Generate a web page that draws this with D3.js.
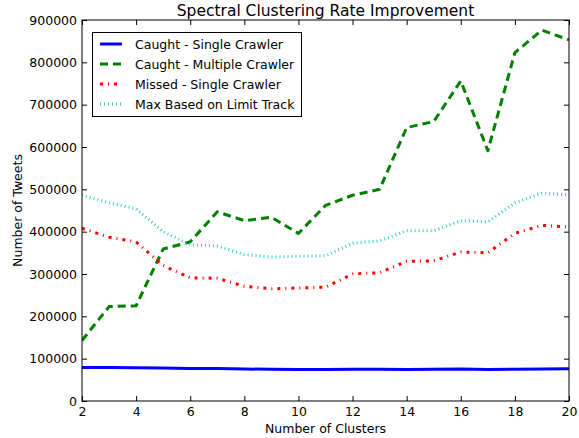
<!DOCTYPE html>
<html><head><meta charset="utf-8">
<script src="https://cdn.jsdelivr.net/npm/d3@7"></script>
<style>
body{margin:0;background:#fff;}
text{font-family:"DejaVu Sans",sans-serif;fill:#000;}
</style></head>
<body><svg id="c" width="579" height="438"></svg>
<script>
const clusters = [2,3,4,5,6,7,8,9,10,11,12,13,14,15,16,17,18,19,20];
const caughtSingle = [79000,79000,78500,78000,77000,76500,75500,75000,74500,74500,75000,75000,74500,75000,75500,74500,75000,75500,76000];
const caughtMultiple = [143000,223000,225000,359000,376000,447000,426000,434000,396000,462000,486000,500000,646000,660000,756000,591000,823000,876000,853000];
const missedSingle = [408000,387000,376000,320000,291000,290000,271000,265000,267000,269000,300000,303000,330000,331000,352000,350000,396000,415000,411000];
const maxLimitTrack = [486000,468000,454000,400000,369000,366000,346000,340000,342000,343000,373000,378000,402000,402000,426000,423000,468000,491000,487000];
const xTicks = [2,4,6,8,10,12,14,16,18,20];
const yTicks = [0,100000,200000,300000,400000,500000,600000,700000,800000,900000];

const series = [
  {name:"Caught - Single Crawler", values:caughtSingle, color:"#0000ff", dash:null, w:3},
  {name:"Caught - Multiple Crawler", values:caughtMultiple, color:"#008000", dash:"8,5", w:3},
  {name:"Missed - Single Crawler", values:missedSingle, color:"#ff0000", dash:"3,5,1,5", w:3},
  {name:"Max Based on Limit Track", values:maxLimitTrack, color:"#33cccc", dash:"1,3", w:3}
];

const svg = d3.select("#c");
const L=82, R=569, T=20, B=401;
const x = d3.scaleLinear().domain([2,20]).range([L,R]);
const y = d3.scaleLinear().domain([0,900000]).range([B,T]);

const plot = svg.append("g");
plot.append("defs").append("clipPath").attr("id","clip").append("rect")
  .attr("x",L).attr("y",T).attr("width",R-L).attr("height",B-T);

const line = d3.line().x((d,i)=>x(clusters[i])).y(d=>y(d));
series.forEach(s=>{
  plot.append("path").attr("clip-path","url(#clip)")
    .attr("d",line(s.values)).attr("fill","none")
    .attr("stroke",s.color).attr("stroke-width",s.w)
    .attr("stroke-dasharray",s.dash).attr("stroke-linejoin","round");
});

// axes (ticks inside, classic style)
const ax = svg.append("g");
ax.append("g").attr("transform",`translate(0,${B})`)
  .call(d3.axisBottom(x).tickValues(xTicks).tickSizeInner(-5).tickSizeOuter(0).tickPadding(6).tickFormat(d3.format("d")));
ax.append("g").attr("transform",`translate(0,${T})`)
  .call(d3.axisTop(x).tickValues(xTicks).tickSizeInner(-5).tickSizeOuter(0).tickFormat(""));
ax.append("g").attr("transform",`translate(${L},0)`)
  .call(d3.axisLeft(y).tickValues(yTicks).tickSizeInner(-5).tickSizeOuter(0).tickPadding(5).tickFormat(d3.format("d")));
ax.append("g").attr("transform",`translate(${R},0)`)
  .call(d3.axisRight(y).tickValues(yTicks).tickSizeInner(-5).tickSizeOuter(0).tickFormat(""));
ax.selectAll(".domain").remove();
ax.selectAll("text").style("font-size","12.5px").attr("fill","#000");
ax.selectAll(".tick line").attr("stroke","#000");
svg.append("rect").attr("x",L).attr("y",T).attr("width",R-L).attr("height",B-T)
  .attr("fill","none").attr("stroke","#000").attr("stroke-width",1);

// titles
svg.append("text").attr("x",(L+R)/2).attr("y",16).attr("text-anchor","middle")
  .style("font-size","15.5px").text("Spectral Clustering Rate Improvement");
svg.append("text").attr("x",(L+R)/2).attr("y",433).attr("text-anchor","middle")
  .style("font-size","12.5px").text("Number of Clusters");
svg.append("text").attr("transform",`translate(22,${(T+B)/2}) rotate(-90)`).attr("text-anchor","middle")
  .style("font-size","12.5px").text("Number of Tweets");

// legend
const lg = svg.append("g");
lg.append("rect").attr("x",92.5).attr("y",32.5).attr("width",209).attr("height",84)
  .attr("fill","#fff").attr("stroke","#000").attr("stroke-width",1);
series.forEach((s,i)=>{
  const yy = 44 + i*20;
  lg.append("line").attr("x1",100).attr("x2",122).attr("y1",yy).attr("y2",yy)
    .attr("stroke",s.color).attr("stroke-width",s.w).attr("stroke-dasharray",s.dash);
  lg.append("text").attr("x",135).attr("y",yy+5).style("font-size","12.5px").text(s.name);
});
</script></body></html>
